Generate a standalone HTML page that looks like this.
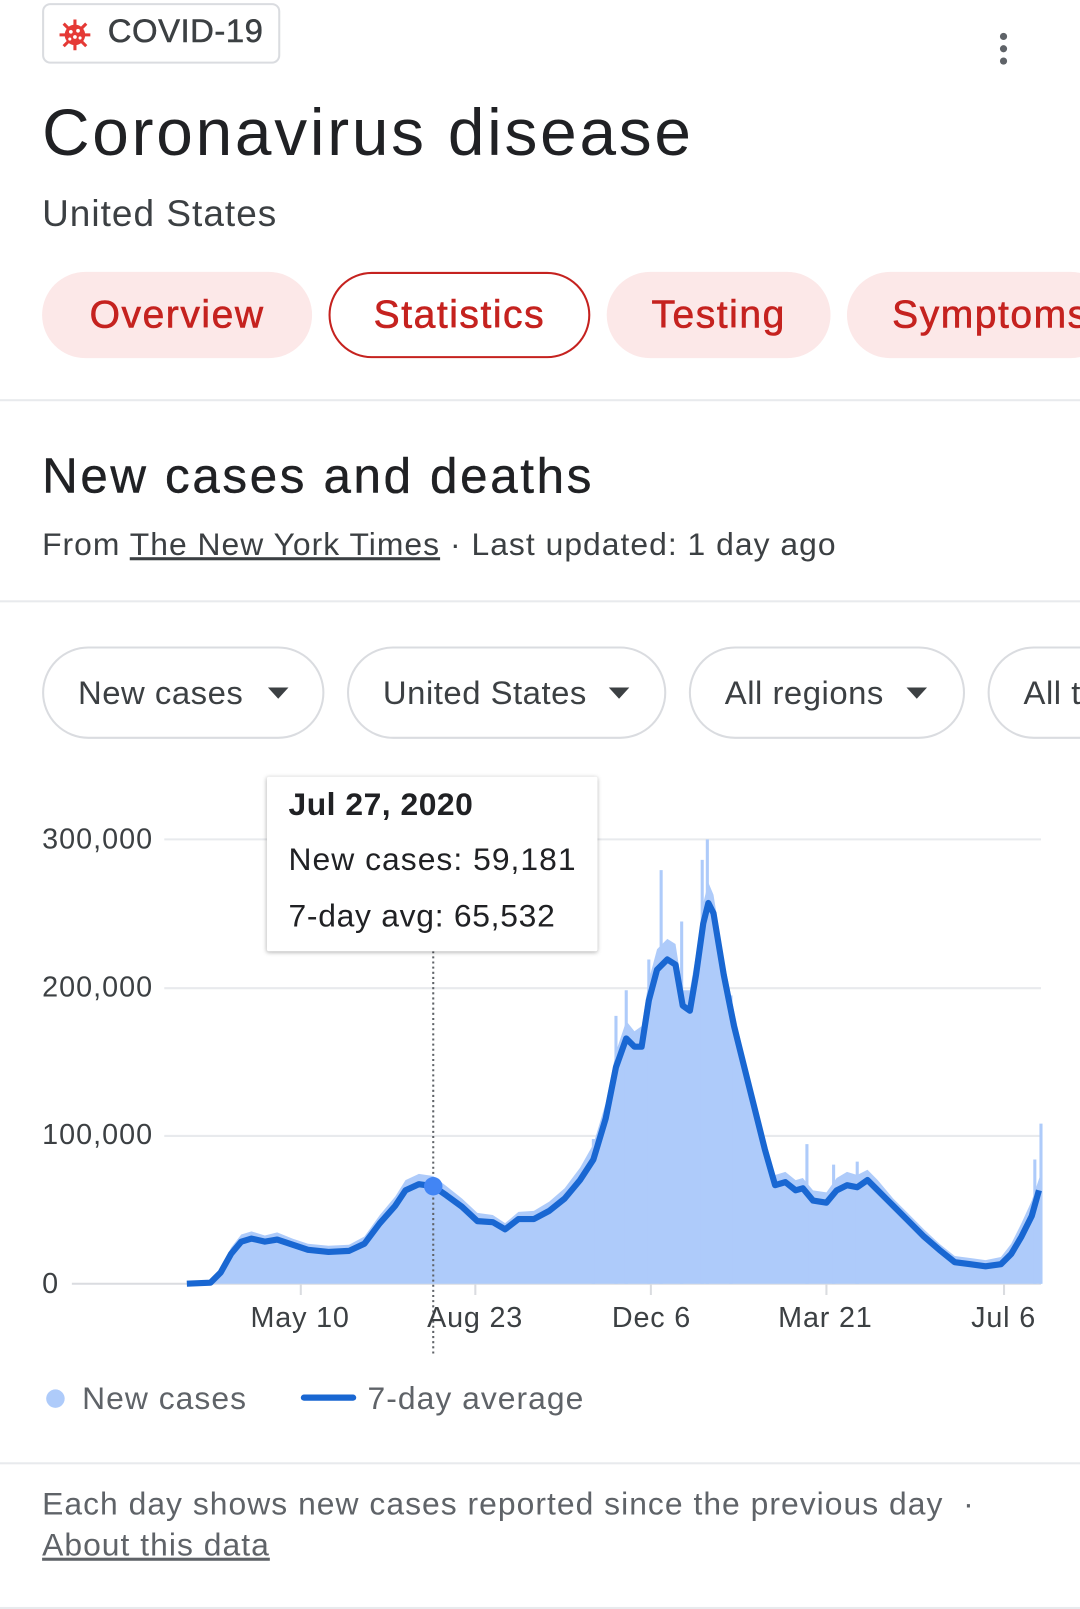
<!DOCTYPE html>
<html><head><meta charset="utf-8"><style>
html,body{margin:0;padding:0;background:#fff;width:1080px;height:1609px;overflow:hidden}
#w{position:absolute;left:0;top:0;width:1052px;height:1568px;transform-origin:0 0;transform:scale(1.02662,1.02615);font-family:"Liberation Sans",Arial,sans-serif}
.a{position:absolute;white-space:nowrap}
.pill{position:absolute;height:84px;border-radius:42px;background:#fce8e8;color:#c5221f;font-size:38px;line-height:84px;text-align:center;box-sizing:border-box;letter-spacing:1.5px;-webkit-text-stroke:0.6px #c5221f}
.dd{position:absolute;height:90px;border-radius:45px;border:2px solid #dadce0;box-sizing:border-box;font-size:32px;color:#3c4043;line-height:86px;padding-left:33px;letter-spacing:0.5px}
.dd i{position:absolute;top:38px;border-left:10px solid transparent;border-right:10px solid transparent;border-top:11px solid #3c4043}
.hr{position:absolute;left:0;width:1052px;height:2px;background:#e8eaed}
.yl{position:absolute;left:41px;font-size:28px;color:#3c4043;letter-spacing:1px}
.xl{position:absolute;top:1268px;font-size:28px;color:#3c4043;letter-spacing:0.8px}
</style></head><body><div id="w">
<div class="a" style="left:41px;top:3px;width:232px;height:59px;border:2px solid #dadce0;border-radius:8px;box-sizing:border-box"></div>
<svg class="a" style="left:56px;top:17px" width="34" height="34" viewBox="0 0 34 34"><g stroke="#e53935" stroke-width="3"><line x1="17" y1="2" x2="17" y2="32"/><line x1="2" y1="17" x2="32" y2="17"/><line x1="6" y1="6" x2="28" y2="28"/><line x1="28" y1="6" x2="6" y2="28"/></g><circle cx="17" cy="17" r="10" fill="#e53935"/><g fill="#fff"><circle cx="13" cy="14" r="1.8"/><circle cx="20" cy="13" r="1.8"/><circle cx="17" cy="19" r="1.8"/><circle cx="12" cy="21" r="1.5"/><circle cx="22" cy="20" r="1.5"/></g></svg>
<div class="a" style="left:105px;top:12px;font-size:32px;color:#3c4043;-webkit-text-stroke:0.5px #3c4043;letter-spacing:0.5px">COVID-19</div>
<div class="a" style="left:974px;top:32px;width:7px;height:7px;border-radius:50%;background:#5f6368;box-shadow:0 12px 0 #5f6368,0 24px 0 #5f6368"></div>
<div class="a" style="left:41px;top:92px;font-size:64px;color:#202124;letter-spacing:2.7px">Coronavirus disease</div>
<div class="a" style="left:41px;top:187px;font-size:36px;color:#3c4043;letter-spacing:1px">United States</div>
<div class="pill" style="left:41px;top:265px;width:263px">Overview</div>
<div class="pill" style="left:320px;top:265px;width:255px;background:#fff;border:2px solid #c5221f;line-height:80px">Statistics</div>
<div class="pill" style="left:591px;top:265px;width:218px">Testing</div>
<div class="pill" style="left:825px;top:265px;width:260px;text-align:left;padding-left:44px">Symptoms</div>
<div class="hr" style="top:389px"></div>
<div class="a" style="left:41px;top:437px;font-size:48px;color:#202124;letter-spacing:2.6px;-webkit-text-stroke:0.4px #202124">New cases and deaths</div>
<div class="a" style="left:41px;top:513px;font-size:31px;color:#3c4043;letter-spacing:1px">From <span style="text-decoration:underline">The New York Times</span> · Last updated: 1 day ago</div>
<div class="hr" style="top:585px"></div>
<div class="dd" style="left:41px;top:630px;width:275px">New cases<i style="left:218px"></i></div>
<div class="dd" style="left:338px;top:630px;width:311px">United States<i style="left:253px"></i></div>
<div class="dd" style="left:671px;top:630px;width:269px">All regions<i style="left:210px"></i></div>
<div class="dd" style="left:962px;top:630px;width:200px">All t</div>
<svg class="a" style="left:0;top:0" width="1052" height="1568">
<g stroke="#e8eaed" stroke-width="2"><line x1="160" y1="818" x2="1014" y2="818"/><line x1="160" y1="963" x2="1014" y2="963"/><line x1="160" y1="1107" x2="1014" y2="1107"/></g>
<line x1="70" y1="1251" x2="1014" y2="1251" stroke="#dadce0" stroke-width="2"/>
<g stroke="#dadce0" stroke-width="2"><line x1="293" y1="1251" x2="293" y2="1262"/><line x1="463" y1="1251" x2="463" y2="1262"/><line x1="634" y1="1251" x2="634" y2="1262"/><line x1="805" y1="1251" x2="805" y2="1262"/><line x1="978" y1="1251" x2="978" y2="1262"/></g>
<polygon fill="#aecbfa" points="182,1251 205,1249 215,1236 225,1216 235,1203 245,1200 258,1204 270,1201 285,1207 300,1212 320,1214 340,1213 355,1205 370,1184 385,1166 395,1150 408,1144 422,1146 435,1156 450,1168 465,1182 480,1184 492,1192 505,1181 520,1180 535,1171 550,1158 565,1138 578,1115 590,1075 600,1025 610,995 618,1005 625,1000 632,955 640,925 650,915 658,920 665,965 672,965 678,930 685,880 690,860 695,872 705,935 715,985 725,1030 735,1070 745,1110 755,1145 765,1142 775,1150 782,1148 792,1160 805,1162 815,1148 825,1142 835,1145 845,1140 855,1150 870,1168 885,1183 900,1198 915,1212 930,1224 945,1226 960,1228 975,1225 985,1212 995,1192 1005,1170 1015,1140 1015,1251"/>
<g stroke="#aecbfa" stroke-width="3"><line x1="610" y1="1251" x2="610" y2="965"/><line x1="644" y1="1251" x2="644" y2="848"/><line x1="684" y1="1251" x2="684" y2="838"/><line x1="689" y1="1251" x2="689" y2="818"/><line x1="664" y1="1251" x2="664" y2="898"/><line x1="632" y1="1251" x2="632" y2="935"/><line x1="786" y1="1251" x2="786" y2="1115"/><line x1="812" y1="1251" x2="812" y2="1135"/><line x1="835" y1="1251" x2="835" y2="1132"/><line x1="1014" y1="1251" x2="1014" y2="1095"/><line x1="1008" y1="1251" x2="1008" y2="1130"/><line x1="578" y1="1251" x2="578" y2="1110"/><line x1="712" y1="1251" x2="712" y2="970"/><line x1="600" y1="1251" x2="600" y2="990"/></g>
<polyline fill="none" stroke="#1967d2" stroke-width="6" stroke-linejoin="round" points="182,1251 205,1250 215,1240 225,1222 235,1210 245,1207 258,1210 270,1208 285,1213 300,1218 320,1220 340,1219 355,1212 370,1192 385,1175 395,1160 408,1154 422,1156 435,1165 450,1176 465,1190 480,1191 492,1198 505,1188 520,1188 535,1180 550,1168 565,1150 578,1130 590,1090 600,1040 610,1012 618,1020 625,1020 632,975 640,945 650,935 658,940 665,980 672,985 678,950 685,900 690,880 695,890 705,950 715,1000 725,1040 735,1080 745,1120 755,1155 765,1152 775,1160 782,1158 792,1170 805,1172 815,1160 825,1155 835,1157 845,1150 855,1160 870,1175 885,1190 900,1205 915,1218 930,1230 945,1232 960,1234 975,1232 985,1222 995,1205 1005,1185 1012,1160"/>
<line x1="422" y1="927" x2="422" y2="1322" stroke="#5f6368" stroke-width="2" stroke-dasharray="2,3"/>
<circle cx="422" cy="1156" r="9" fill="#4285f4"/>
<circle cx="54" cy="1363" r="9" fill="#aecbfa"/>
<line x1="296" y1="1362" x2="344" y2="1362" stroke="#1967d2" stroke-width="6" stroke-linecap="round"/>
</svg>
<div class="yl" style="top:802px">300,000</div>
<div class="yl" style="top:946px">200,000</div>
<div class="yl" style="top:1090px">100,000</div>
<div class="yl" style="top:1235px">0</div>
<div class="xl" style="left:244px">May 10</div>
<div class="xl" style="left:416px">Aug 23</div>
<div class="xl" style="left:596px">Dec 6</div>
<div class="xl" style="left:758px">Mar 21</div>
<div class="xl" style="left:946px">Jul 6</div>
<div class="a" style="left:260px;top:757px;width:322px;height:170px;background:#fff;box-shadow:0 1px 4px rgba(0,0,0,.3);border-radius:2px"></div>
<div class="a" style="left:281px;top:766px;font-size:31px;font-weight:bold;color:#202124;letter-spacing:0.5px">Jul 27, 2020</div>
<div class="a" style="left:281px;top:820px;font-size:31px;color:#202124;letter-spacing:1px">New cases: 59,181</div>
<div class="a" style="left:281px;top:875px;font-size:31px;color:#202124;letter-spacing:0.7px">7-day avg: 65,532</div>
<div class="a" style="left:80px;top:1345px;font-size:31px;color:#5f6368;letter-spacing:1px">New cases</div>
<div class="a" style="left:358px;top:1345px;font-size:31px;color:#5f6368;letter-spacing:1px">7-day average</div>
<div class="hr" style="top:1425px"></div>
<div class="a" style="left:41px;top:1448px;font-size:31px;color:#5f6368;letter-spacing:1px">Each day shows new cases reported since the previous day &nbsp;·</div>
<div class="a" style="left:41px;top:1488px;font-size:31px;color:#5f6368;text-decoration:underline;letter-spacing:1px">About this data</div>
<div class="hr" style="top:1566px"></div>
</div></body></html>
